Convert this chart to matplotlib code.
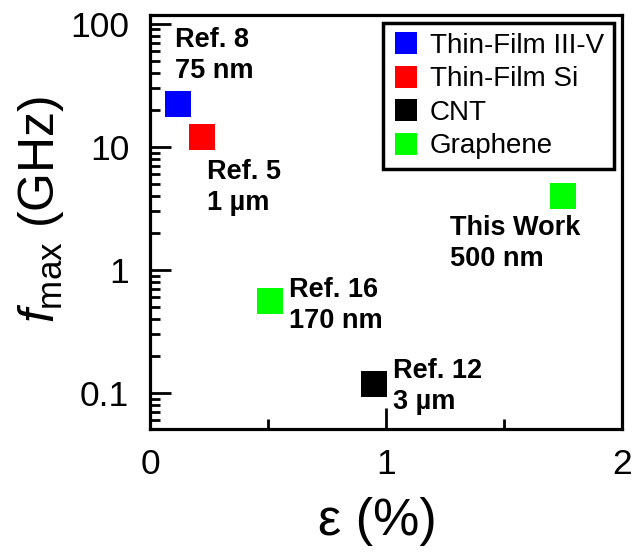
import numpy as np
import matplotlib
matplotlib.use('Agg')
import matplotlib.pyplot as plt
from matplotlib.ticker import LogLocator, FixedLocator, NullFormatter

plt.rcParams['font.family'] = ['Liberation Sans', 'DejaVu Sans']
plt.rcParams['mathtext.fontset'] = 'custom'
plt.rcParams['mathtext.rm'] = 'Liberation Sans'
plt.rcParams['mathtext.it'] = 'Liberation Sans:italic'

# data
categories = ['Thin-Film III-V', 'Thin-Film Si', 'CNT', 'Graphene']
colors = ['#0000ff', '#ff0000', '#000000', '#00ff00']
strain = [[0.12], [0.22], [0.95], [0.51, 1.75]]
fmax = [[22.5], [12.0], [0.118], [0.56, 4.0]]
notes = ['Ref. 8\n75 nm', 'Ref. 5\n1 µm', 'Ref. 12\n3 µm', 'Ref. 16\n170 nm', 'This Work\n500 nm']
note_x = [0.12, 0.22, 0.95, 0.51, 1.75]
note_y = [22.5, 12.0, 0.118, 0.56, 4.0]
# offsets in pixels (dx, dy), alignment
note_off = [(-3, 20, 'left', 'bottom'), (5, -22, 'left', 'top'), (19, -2, 'left', 'center'),
            (19, -5, 'left', 'center'), (-48, -19, 'center', 'top')]

fig = plt.figure(figsize=(6.34, 5.54), dpi=100)
ax = fig.add_axes([0.2366, 0.2256, 0.981 - 0.2366, 0.973 - 0.2256])

for cat, c, xs, ys in zip(categories, colors, strain, fmax):
    ax.plot(xs, ys, 's', color=c, ms=18.5, mec=c, mew=0, label=cat)

for t, x, y, (dx, dy, ha, va) in zip(notes, note_x, note_y, note_off):
    ax.annotate(t, (x, y), xytext=(dx, dy), textcoords='offset pixels',
                ha=ha, va=va, fontsize=19.5, fontweight='bold', linespacing=1.25,
                multialignment='left')

ax.set_yscale('log')
ax.set_xlim(0, 2)
ax.set_ylim(0.051, 118)
ax.xaxis.set_major_locator(FixedLocator([0, 1, 2]))
ax.xaxis.set_minor_locator(FixedLocator([0.5, 1.5]))
ax.yaxis.set_minor_locator(LogLocator(base=10, subs=np.arange(2, 10), numticks=10))
ax.yaxis.set_minor_formatter(NullFormatter())
ax.set_yticks([0.1, 1, 10, 100])
ax.set_yticklabels(['0.1', '1', '10', '100'])
ax.set_xticklabels(['0', '1', '2'])

ax.tick_params(which='both', direction='in', width=2, labelsize=25.5, top=False, right=False)
ax.tick_params(which='major', length=15)
ax.tick_params(axis='y', which='major', pad=15)
ax.tick_params(axis='x', which='major', pad=13.5)
ax.tick_params(which='minor', length=7)
for s in ax.spines.values():
    s.set_linewidth(2.3)

ax.set_xlabel('ε (%)', fontsize=37.5)
ax.set_ylabel(r'$f_{\mathrm{max}}$ (GHz)', fontsize=36)
ax.xaxis.set_label_coords(0.481, -0.165)
ax.yaxis.set_label_coords(-0.178, 0.53)

leg = ax.legend(loc='upper right', fontsize=20, markerscale=0.85, frameon=True, fancybox=False,
                edgecolor='black', framealpha=1, labelspacing=0.27, handletextpad=0.35,
                handlelength=1.0, borderpad=0.34, borderaxespad=0.3)
leg.get_frame().set_linewidth(2.5)

fig.savefig('out.png', dpi=100)
